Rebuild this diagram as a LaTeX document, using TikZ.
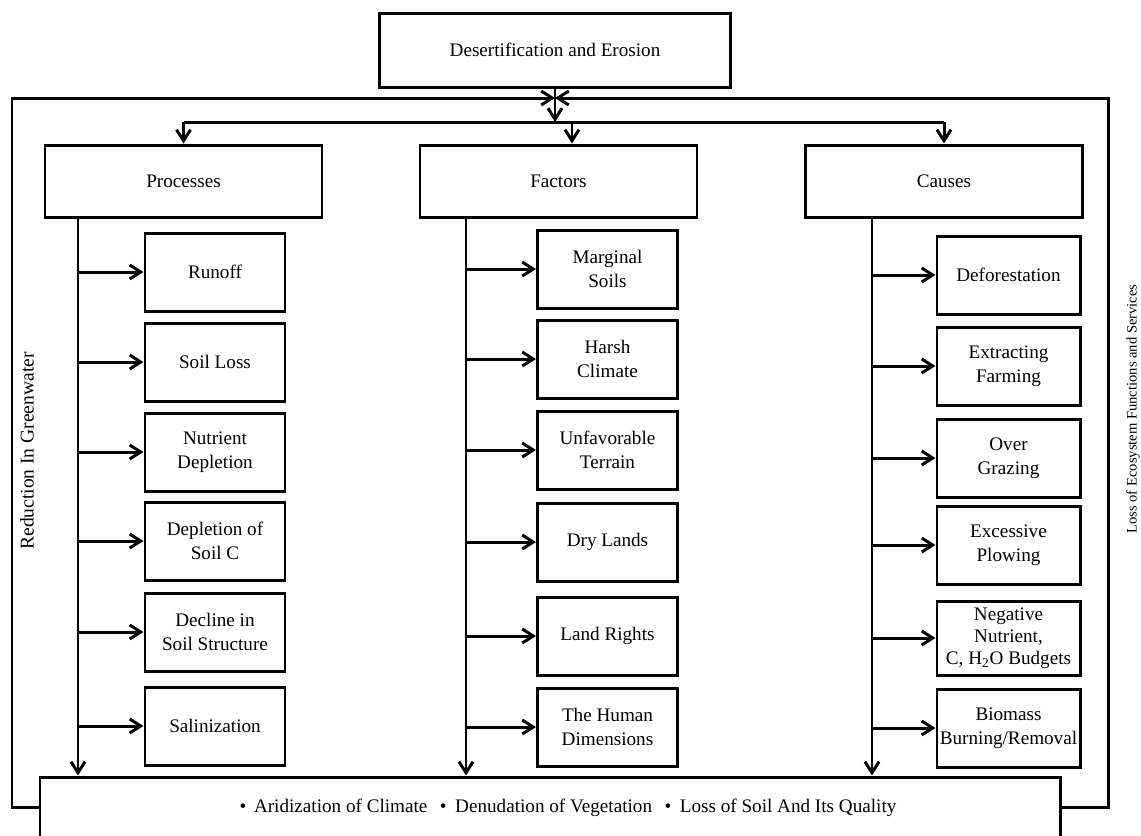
\documentclass[tikz,border=0pt]{standalone}
\usepackage{fontspec}
\setmainfont{Liberation Serif}
\usetikzlibrary{arrows.meta}

\begin{document}
\begin{tikzpicture}[font=\fontsize{10.9}{13.5}\selectfont, line width=1.7pt,
  head/.style={draw, minimum width=5.54cm, minimum height=1.44cm},
  item/.style={draw, align=center, minimum width=2.8cm, minimum height=1.56cm, inner sep=1pt},
  arr/.style={-{Straight Barb[length=2.2mm,width=2.8mm]}}]
  \useasboundingbox (0,0) rectangle (22.82,-16.7);
  % Title and effects
  \node[draw, minimum width=7.02cm, minimum height=1.48cm] (title) at (11.1,-1.0) {Desertification and Erosion};
  \node[draw, minimum width=20.4cm, minimum height=1.22cm] (effects) at (11.0,-16.15)
    {\hspace*{0.72cm}•\hspace{0.4em}Aridization of Climate\hspace{0.4em} • \hspace{0.2em}Denudation of Vegetation\hspace{0.4em} • \hspace{0.2em}Loss of Soil And Its Quality};
  % Feedback loop
  \coordinate (meet) at (11.1,-1.96);
  \coordinate (split) at (11.1,-2.44);
  \draw[arr] (effects.west) -| (0.24,-1.96) -- (meet);
  \draw[arr] (effects.east) -| (22.16,-1.96) -- (meet);
  \node[rotate=90, font=\fontsize{11.1}{13}\selectfont] (green) at (0.54,-9.02) {Reduction In Greenwater};
  \node[rotate=90, font=\fontsize{8.3}{10}\selectfont] (eco) at (22.66,-8.18) {Loss of Ecosystem Functions and Services};
  % Headers
  \node[head] (procs) at (3.67,-3.62) {Processes};
  \node[head] (factors) at (11.17,-3.62) {Factors};
  \node[head] (causes) at (18.88,-3.62) {Causes};
  \draw[arr] (title.south) -- (split);
  \draw (split -| procs.north) -- (split -| causes.north);
  \draw[arr] (split -| procs.north) -- (procs.north);
  \draw[arr] ([xshift=2.7mm]factors.north |- split) -- ([xshift=2.7mm]factors.north);
  \draw[arr] (split -| causes.north) -- (causes.north);
  % Processes
  \node[item] (p1) at (4.3,-5.44) {Runoff};
  \node[item] (p2) at (4.3,-7.24) {Soil Loss};
  \node[item] (p3) at (4.3,-9.04) {Nutrient\\Depletion};
  \node[item] (p4) at (4.3,-10.82) {Depletion of\\Soil C};
  \node[item] (p5) at (4.3,-12.64) {Decline in\\Soil Structure};
  \node[item] (p6) at (4.3,-14.52) {Salinization};
  \coordinate (pspine) at (1.56,-4.34);
  \draw[arr] (pspine) -- (pspine |- effects.north);
  \draw[arr] (p1.west -| pspine) -- (p1.west);
  \draw[arr] (p2.west -| pspine) -- (p2.west);
  \draw[arr] (p3.west -| pspine) -- (p3.west);
  \draw[arr] (p4.west -| pspine) -- (p4.west);
  \draw[arr] (p5.west -| pspine) -- (p5.west);
  \draw[arr] (p6.west -| pspine) -- (p6.west);
  % Factors
  \node[item] (f1) at (12.15,-5.38) {Marginal\\Soils};
  \node[item] (f2) at (12.15,-7.18) {Harsh\\Climate};
  \node[item] (f3) at (12.15,-9.0) {Unfavorable\\Terrain};
  \node[item] (f4) at (12.15,-10.84) {Dry Lands};
  \node[item] (f5) at (12.15,-12.72) {Land Rights};
  \node[item] (f6) at (12.15,-14.54) {The Human\\Dimensions};
  \coordinate (fspine) at (9.32,-4.34);
  \draw[arr] (fspine) -- (fspine |- effects.north);
  \draw[arr] (f1.west -| fspine) -- (f1.west);
  \draw[arr] (f2.west -| fspine) -- (f2.west);
  \draw[arr] (f3.west -| fspine) -- (f3.west);
  \draw[arr] (f4.west -| fspine) -- (f4.west);
  \draw[arr] (f5.west -| fspine) -- (f5.west);
  \draw[arr] (f6.west -| fspine) -- (f6.west);
  % Causes
  \node[item, minimum width=2.86cm] (c1) at (20.17,-5.5) {Deforestation};
  \node[item, minimum width=2.86cm] (c2) at (20.17,-7.32) {Extracting\\Farming};
  \node[item, minimum width=2.86cm] (c3) at (20.17,-9.16) {Over\\Grazing};
  \node[item, minimum width=2.86cm] (c4) at (20.17,-10.9) {Excessive\\Plowing};
  \node[item, minimum width=2.86cm, minimum height=1.48cm, inner sep=0pt,
    font=\fontsize{10.9}{12.6}\selectfont] (c5) at (20.17,-12.76) {Negative\\Nutrient,\\C, H\textsubscript{2}O Budgets};
  \node[item, minimum width=2.86cm, inner sep=0pt] (c6) at (20.17,-14.56) {Biomass\\Burning/Removal};
  \coordinate (cspine) at (17.44,-4.34);
  \draw[arr] (cspine) -- (cspine |- effects.north);
  \draw[arr] (c1.west -| cspine) -- (c1.west);
  \draw[arr] (c2.west -| cspine) -- (c2.west);
  \draw[arr] (c3.west -| cspine) -- (c3.west);
  \draw[arr] (c4.west -| cspine) -- (c4.west);
  \draw[arr] (c5.west -| cspine) -- (c5.west);
  \draw[arr] (c6.west -| cspine) -- (c6.west);
\end{tikzpicture}
\end{document}
